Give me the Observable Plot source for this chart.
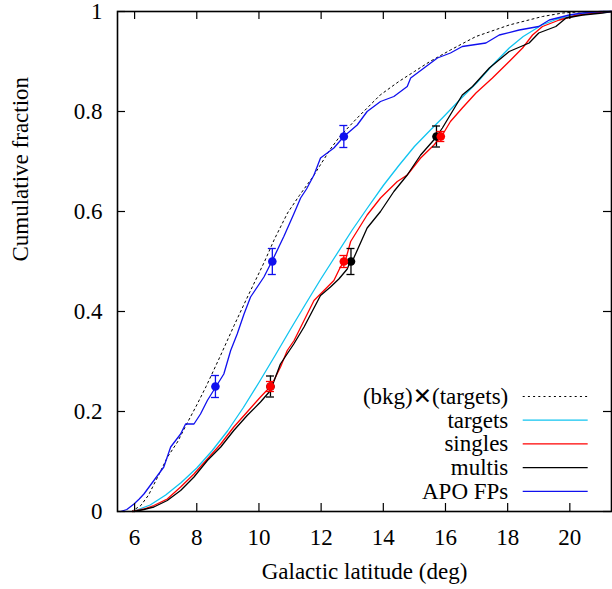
<!DOCTYPE html>
<html><head><meta charset="utf-8">
<script src="https://cdn.jsdelivr.net/npm/d3@7"></script>
<script src="https://cdn.jsdelivr.net/npm/@observablehq/plot@0.6"></script>
<style>
body{margin:0;background:#fff}
#chart svg text, #chart svg tspan{font-family:"Liberation Serif" !important;}
#chart svg tspan.xsym{font-family:"DejaVu Sans" !important;font-weight:bold;}
</style>
</head><body><div id="chart"></div>
<script>
// ---- data ----
const xTicks = [6, 8, 10, 12, 14, 16, 18, 20];
const yTicks = [0, 0.2, 0.4, 0.6, 0.8, 1];

const bkgX = [5.9, 6.2, 6.45, 6.75, 7.06, 7.38, 7.65, 8.0, 8.3, 8.75, 9.2, 9.6, 10.18, 10.5, 10.92, 11.3, 11.72, 12.3, 12.6, 13.16, 13.9, 14.5, 15.0, 15.5, 16.16, 16.98, 18.05, 19.12, 19.77, 20.5, 21.34];
const bkgY = [0, 0.012, 0.033, 0.07, 0.109, 0.139, 0.172, 0.213, 0.25, 0.31, 0.372, 0.425, 0.5, 0.545, 0.597, 0.632, 0.668, 0.725, 0.75, 0.787, 0.833, 0.86, 0.88, 0.9, 0.923, 0.95, 0.973, 0.99, 0.997, 1, 1];

const tgtX = [5.95, 6.5, 7.0, 7.5, 8.0, 8.5, 9.0, 9.5, 10.0, 10.5, 11.0, 11.5, 12.0, 12.35, 13.0, 13.5, 14.0, 14.5, 15.0, 15.5, 15.9, 16.5, 17.0, 17.5, 18.05, 18.5, 19.1, 19.6, 20.0, 20.5, 21.0, 21.34];
const tgtY = [0, 0.013, 0.033, 0.058, 0.087, 0.122, 0.162, 0.208, 0.258, 0.31, 0.363, 0.415, 0.466, 0.5, 0.563, 0.608, 0.652, 0.692, 0.73, 0.762, 0.787, 0.826, 0.857, 0.892, 0.927, 0.95, 0.973, 0.985, 0.99, 0.996, 0.999, 1];

const sinX = [5.93, 6.3, 6.62, 7.05, 7.48, 7.91, 8.34, 8.77, 9.19, 9.62, 10.05, 10.37, 10.48, 10.7, 10.91, 11.13, 11.45, 11.77, 12.09, 12.41, 12.62, 12.78, 12.95, 13.48, 13.91, 14.45, 14.77, 15.2, 15.63, 15.9, 16.16, 16.54, 16.98, 17.51, 18.05, 18.48, 18.8, 19.12, 19.66, 20.19, 20.94, 21.34];
const sinY = [0, 0.005, 0.012, 0.025, 0.049, 0.075, 0.105, 0.135, 0.169, 0.199, 0.229, 0.25, 0.262, 0.29, 0.322, 0.342, 0.382, 0.422, 0.442, 0.462, 0.489, 0.502, 0.54, 0.593, 0.627, 0.66, 0.673, 0.707, 0.733, 0.753, 0.78, 0.807, 0.837, 0.867, 0.9, 0.927, 0.953, 0.97, 0.983, 0.992, 0.998, 1];

const mulX = [5.98, 6.3, 6.62, 7.05, 7.48, 7.91, 8.34, 8.77, 9.19, 9.62, 10.05, 10.37, 10.69, 11.12, 11.45, 11.98, 12.3, 12.57, 12.84, 12.95, 13.05, 13.48, 13.91, 14.34, 14.77, 15.2, 15.68, 15.9, 16.22, 16.54, 16.87, 17.41, 18.05, 18.69, 19.0, 19.55, 19.88, 20.41, 21.05, 21.34];
const mulY = [0, 0.004, 0.009, 0.022, 0.042, 0.069, 0.102, 0.129, 0.162, 0.192, 0.219, 0.242, 0.295, 0.335, 0.369, 0.432, 0.449, 0.465, 0.485, 0.502, 0.507, 0.567, 0.6, 0.64, 0.673, 0.713, 0.747, 0.767, 0.8, 0.833, 0.85, 0.887, 0.92, 0.937, 0.957, 0.97, 0.987, 0.993, 0.997, 1];

const apoX = [5.55, 5.75, 5.98, 6.15, 6.3, 6.62, 6.94, 7.16, 7.48, 7.64, 7.91, 8.12, 8.34, 8.61, 8.87, 9.09, 9.3, 9.52, 9.73, 10.16, 10.43, 10.8, 11.12, 11.34, 11.53, 11.77, 11.98, 12.41, 12.73, 13.16, 13.48, 13.91, 14.34, 14.77, 14.88, 15.31, 15.74, 16.16, 16.54, 17.3, 17.73, 18.37, 19.0, 19.34, 19.98, 20.41, 21.0, 21.34];
const apoY = [0, 0.004, 0.015, 0.025, 0.035, 0.062, 0.089, 0.129, 0.155, 0.175, 0.175, 0.195, 0.222, 0.249, 0.275, 0.322, 0.355, 0.395, 0.429, 0.469, 0.502, 0.55, 0.595, 0.627, 0.645, 0.673, 0.707, 0.727, 0.75, 0.773, 0.8, 0.82, 0.83, 0.85, 0.867, 0.887, 0.907, 0.917, 0.93, 0.937, 0.953, 0.963, 0.97, 0.983, 0.993, 0.997, 1, 1];

// quartile points with error bars
const qY = [0.25, 0.5, 0.75];
const multX = [10.37, 12.96, 15.71];
const multErr = [0.021, 0.026, 0.021];
const singX = [10.37, 12.73, 15.85];
const singErr = [0.01, 0.012, 0.01];
const apoPX = [8.6, 10.43, 12.73];
const apoPErr = [0.022, 0.026, 0.022];

const legendLabels = ["(bkg)\u2715(targets)", "targets", "singles", "multis", "APO FPs"];

// ---- styles ----
const FONT = "Liberation Serif";
const FS = 23;
const series = [
  {key: "bkg", xs: bkgX, ys: bkgY, color: "#000000", dash: "2,3.2", width: 1},
  {key: "targets", xs: tgtX, ys: tgtY, color: "#10c4f0", dash: null, width: 1.3},
  {key: "singles", xs: sinX, ys: sinY, color: "#ff0000", dash: null, width: 1.3},
  {key: "multis", xs: mulX, ys: mulY, color: "#000000", dash: null, width: 1.3},
  {key: "apo", xs: apoX, ys: apoY, color: "#1010ee", dash: null, width: 1.3}
];
const pts = [
  {xs: multX, err: multErr, color: "#000000"},
  {xs: singX, err: singErr, color: "#ff0000"},
  {xs: apoPX, err: apoPErr, color: "#1010ee"}
];

const X0 = 5.45, X1 = 21.34;
const pxPerX = (611 - 117) / (X1 - X0);
const capHalf = 4 / pxPerX;
const tickLenX = 8 / pxPerX;
const tickLenY = 8 / 500;

const marks = [];
series.forEach(s => {
  const rows = s.xs.map((x, i) => ({x, y: s.ys[i]}));
  marks.push(Plot.line(rows, {x: "x", y: "y", stroke: s.color, strokeWidth: s.width, strokeDasharray: s.dash || undefined}));
});
pts.forEach(p => {
  const rows = p.xs.map((x, i) => ({x, y: qY[i], lo: qY[i] - p.err[i], hi: qY[i] + p.err[i]}));
  marks.push(Plot.ruleX(rows, {x: "x", y1: "lo", y2: "hi", stroke: p.color, strokeWidth: 1.3}));
  marks.push(Plot.ruleY(rows, {y: "lo", x1: d => d.x - capHalf, x2: d => d.x + capHalf, stroke: p.color, strokeWidth: 1.3}));
  marks.push(Plot.ruleY(rows, {y: "hi", x1: d => d.x - capHalf, x2: d => d.x + capHalf, stroke: p.color, strokeWidth: 1.3}));
  marks.push(Plot.dot(rows, {x: "x", y: "y", r: 4.3, fill: p.color, stroke: "none"}));
});

// ticks inward on all four sides
marks.push(Plot.ruleX(xTicks, {x: d => d, y1: 0, y2: tickLenY, stroke: "#000", strokeWidth: 1.2}));
marks.push(Plot.ruleX(xTicks, {x: d => d, y1: 1, y2: 1 - tickLenY, stroke: "#000", strokeWidth: 1.2}));
marks.push(Plot.ruleY(yTicks, {y: d => d, x1: X0, x2: X0 + tickLenX, stroke: "#000", strokeWidth: 1.2}));
marks.push(Plot.ruleY(yTicks, {y: d => d, x1: X1, x2: X1 - tickLenX, stroke: "#000", strokeWidth: 1.2}));
marks.push(Plot.frame({stroke: "#000", strokeWidth: 1.6}));

marks.push(Plot.axisX(xTicks, {tickSize: 0, tickPadding: 17, fontSize: FS, fontFamily: FONT, label: null, tickFormat: d => String(d)}));
marks.push(Plot.axisY(yTicks, {tickSize: 0, tickPadding: 15, fontSize: FS, fontFamily: FONT, label: null, tickFormat: d => String(d)}));

marks.push(Plot.text(["Galactic latitude (deg)"], {frameAnchor: "bottom", dy: 60, fontSize: FS, fontFamily: FONT, lineAnchor: "middle", text: d => d}));
marks.push(Plot.text(["Cumulative fraction"], {frameAnchor: "left", dx: -97, rotate: -90, fontSize: FS, fontFamily: FONT, lineAnchor: "middle", text: d => d}));

// legend
const LEG_TX = 18.02, LEG_L1 = 18.5, LEG_L2 = 20.59, LEG_Y0 = 0.23, LEG_DY = 0.0474;
const legRows = legendLabels.map((label, i) => ({label, y: LEG_Y0 - i * LEG_DY, s: series[i]}));
marks.push(Plot.text(legRows, {x: LEG_TX, y: "y", text: "label", textAnchor: "end", lineAnchor: "middle", fontSize: FS, fontFamily: FONT, fill: "#000"}));
legRows.forEach(r => {
  marks.push(Plot.ruleY([r], {y: "y", x1: LEG_L1, x2: LEG_L2, stroke: r.s.color, strokeWidth: r.s.width, strokeDasharray: r.s.dash || undefined}));
});

const chart = Plot.plot({
  width: 612, height: 589,
  marginLeft: 117, marginRight: 1, marginTop: 11, marginBottom: 78,
  x: {domain: [X0, X1], axis: null},
  y: {domain: [0, 1], axis: null},
  style: {fontFamily: FONT, fontSize: FS + "px"},
  marks
});
chart.setAttribute("font-family", FONT);

// bold sans multiplication sign in the first legend label
const ns = "http://www.w3.org/2000/svg";
chart.querySelectorAll("text").forEach(t => {
  t.setAttribute("font-family", FONT);
  const s = t.textContent;
  if (s.includes("\u2715")) {
    const parts = s.split("\u2715");
    const target = t.querySelector("tspan") || t;
    while (target.firstChild) target.removeChild(target.firstChild);
    const a = document.createElementNS(ns, "tspan"); a.textContent = parts[0];
    const b = document.createElementNS(ns, "tspan"); b.textContent = "\u2715";
    b.setAttribute("class", "xsym");
    b.setAttribute("font-family", "DejaVu Sans"); b.setAttribute("font-weight", "bold");
    const c = document.createElementNS(ns, "tspan"); c.textContent = parts[1];
    target.appendChild(a); target.appendChild(b); target.appendChild(c);
  }
});
document.getElementById("chart").appendChild(chart);
</script></body></html>
